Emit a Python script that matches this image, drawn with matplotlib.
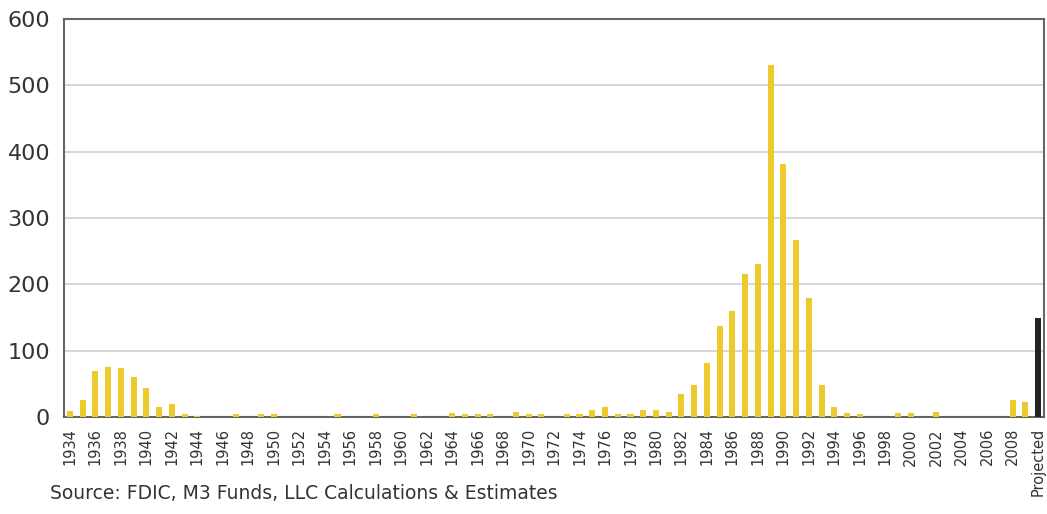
import numpy as np
import matplotlib.pyplot as plt

# bank failures per year, 1934-2009
years = list(range(1934, 2010))
failures = [
    9, 25, 69, 75, 74, 60,                      # 1934-1939
    43, 15, 20, 5, 2, 0, 0, 5, 0, 4,            # 1940s
    4, 0, 0, 0, 0, 4, 0, 0, 4, 0,               # 1950s
    0, 4, 0, 0, 6, 5, 5, 4, 0, 8,               # 1960s
    5, 5, 0, 5, 5, 11, 15, 5, 5, 10,            # 1970s
    11, 7, 34, 48, 81, 137, 160, 216, 231, 531,  # 1980s
    381, 267, 179, 49, 15, 6, 4, 0, 0, 6,       # 1990s
    6, 0, 7, 0, 0, 0, 0, 0, 25, 22,             # 2000s
]
projected = 150

labels = [str(y) for y in years] + ['Projected']
x = np.arange(len(labels))

fig = plt.figure(figsize=(10.47, 5.14), dpi=100)
ax = fig.add_axes([0.0611, 0.1887, 0.9359, 0.7743])

ax.bar(x[:-1], failures, width=0.48, color='#eecb2c', zorder=3)
ax.bar(x[-1], projected, width=0.48, color='#222222', zorder=3)

ax.set_ylim(0, 600)
ax.set_xlim(-0.47, 76.45)
ax.set_yticks(range(0, 601, 100))
ax.yaxis.grid(True, color='#cfcfcf', lw=1.2, zorder=0)

ax.set_xticks(x[::2])
ax.set_xticklabels(labels[::2], rotation=90, fontsize=10.5, color='#333333')
ax.tick_params(axis='x', length=0, pad=8)
ax.tick_params(axis='y', length=0, pad=10, labelsize=16, labelcolor='#333333')

for s in ax.spines.values():
    s.set_color('#666666')
    s.set_linewidth(1.5)

fig.text(0.048, 0.03, 'Source: FDIC, M3 Funds, LLC Calculations & Estimates',
         fontsize=13.5, color='#333333')

fig.savefig('out.png', dpi=100)
